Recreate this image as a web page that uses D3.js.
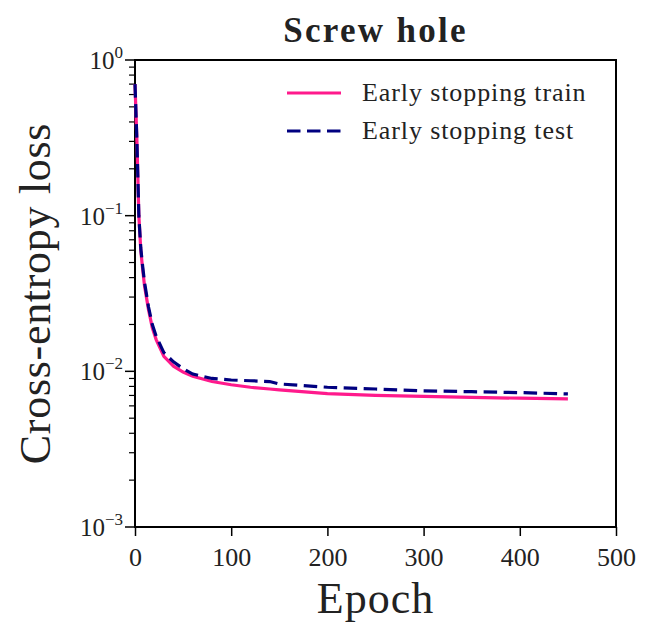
<!DOCTYPE html>
<html>
<head>
<meta charset="utf-8">
<title>Screw hole</title>
<script src="https://cdn.jsdelivr.net/npm/d3@7/dist/d3.min.js"></script>
<style>
  body { margin: 0; background: #fff; }
  text { font-family: "Liberation Serif", "DejaVu Serif", serif; fill: #222; }
</style>
</head>
<body>
<div id="chart"></div>
<script>
// values
const epochs    = [0, 2, 4, 6, 8, 10, 14, 18, 22, 30, 40, 50, 60, 80, 100, 120, 140, 150, 200, 250, 300, 350, 400, 450];
const trainLoss = [0.70, 0.30, 0.10, 0.060, 0.045, 0.035, 0.025, 0.019, 0.0160, 0.0125, 0.0108, 0.0099, 0.0093, 0.0086, 0.0082, 0.0079, 0.0077, 0.0076, 0.0072, 0.0070, 0.0069, 0.0068, 0.00672, 0.00665];
const testLoss  = [0.70, 0.30, 0.10, 0.062, 0.047, 0.037, 0.026, 0.020, 0.0168, 0.0132, 0.0115, 0.0104, 0.0096, 0.0090, 0.0088, 0.0087, 0.0086, 0.0083, 0.0079, 0.0077, 0.0075, 0.0074, 0.0073, 0.00716];
const xTicks = [0, 100, 200, 300, 400, 500];
const yExps  = [0, -1, -2, -3];
const seriesNames = ["Early stopping train", "Early stopping test"];

const W = 646, H = 625;
const m = {left: 135, right: 30, top: 60, bottom: 98};
const dash = "13.5,6.5";

const svg = d3.select("#chart").append("svg")
  .attr("width", W).attr("height", H);

const x = d3.scaleLinear().domain([0, 500]).range([m.left, W - m.right]);
const y = d3.scaleLog().domain([1e-3, 1]).range([H - m.bottom, m.top]);

// x axis
const xa = svg.append("g").attr("transform", `translate(0,${H - m.bottom})`)
  .call(d3.axisBottom(x).tickValues(xTicks).tickSize(9).tickPadding(12).tickFormat(d3.format("d")));
xa.select(".domain").remove();
xa.selectAll("line").attr("stroke", "#000").attr("stroke-width", 1.5);
xa.selectAll("text").attr("font-size", 26).attr("font-family", "Liberation Serif").attr("fill", "#222");

// y axis with minor ticks
const minor = [];
for (let e = -3; e < 0; e++) for (let k = 2; k <= 9; k++) minor.push(k * Math.pow(10, e));
const ya = svg.append("g").attr("transform", `translate(${m.left},0)`);
ya.selectAll("line.minor").data(minor).join("line")
  .attr("x1", -6).attr("x2", 0).attr("y1", d => y(d)).attr("y2", d => y(d))
  .attr("stroke", "#000").attr("stroke-width", 1.2);
ya.selectAll("line.major").data(yExps).join("line")
  .attr("x1", -10).attr("x2", 0).attr("y1", d => y(Math.pow(10, d))).attr("y2", d => y(Math.pow(10, d)))
  .attr("stroke", "#000").attr("stroke-width", 1.5);
const yl = ya.selectAll("text.lab").data(yExps).join("text")
  .attr("text-anchor", "end")
  .attr("x", -12).attr("y", d => y(Math.pow(10, d)) + 9)
  .attr("font-size", 25);
yl.append("tspan").text("10");
yl.append("tspan").attr("dy", -11).attr("font-size", 17).text(d => d === 0 ? "0" : "\u2212" + (-d));

// frame
svg.append("rect")
  .attr("x", m.left).attr("y", m.top)
  .attr("width", W - m.left - m.right).attr("height", H - m.top - m.bottom)
  .attr("fill", "none").attr("stroke", "#000").attr("stroke-width", 2);

// lines
const line = d3.line().x((d, i) => x(epochs[i])).y(d => y(d));
svg.append("path").datum(trainLoss).attr("d", line)
  .attr("fill", "none").attr("stroke", "#ff1a8c").attr("stroke-width", 3.2);
svg.append("path").datum(testLoss).attr("d", line)
  .attr("fill", "none").attr("stroke", "#000080").attr("stroke-width", 3.2)
  .attr("stroke-dasharray", dash);

// legend
const lg = svg.append("g");
const ls = [{c: "#ff1a8c", dash: null}, {c: "#000080", dash: dash}];
seriesNames.forEach((n, i) => {
  const yy = 93 + i * 38;
  lg.append("line").attr("x1", 287).attr("x2", 341).attr("y1", yy).attr("y2", yy)
    .attr("stroke", ls[i].c).attr("stroke-width", 3.2).attr("stroke-dasharray", ls[i].dash);
  lg.append("text").attr("x", 362).attr("y", yy + 8).attr("font-size", 26)
    .attr("letter-spacing", 0.9).text(n);
});

// titles
svg.append("text").attr("x", (m.left + W - m.right) / 2).attr("y", 42)
  .attr("text-anchor", "middle").attr("font-size", 35).attr("font-weight", "bold")
  .attr("letter-spacing", 2.3).text("Screw hole");
svg.append("text").attr("x", (m.left + W - m.right) / 2).attr("y", 613)
  .attr("text-anchor", "middle").attr("font-size", 44).attr("letter-spacing", 1).text("Epoch");
svg.append("text").attr("transform", `translate(50,${(m.top + H - m.bottom) / 2}) rotate(-90)`)
  .attr("text-anchor", "middle").attr("font-size", 44).attr("letter-spacing", 0.7).text("Cross-entropy loss");
</script>
</body>
</html>
